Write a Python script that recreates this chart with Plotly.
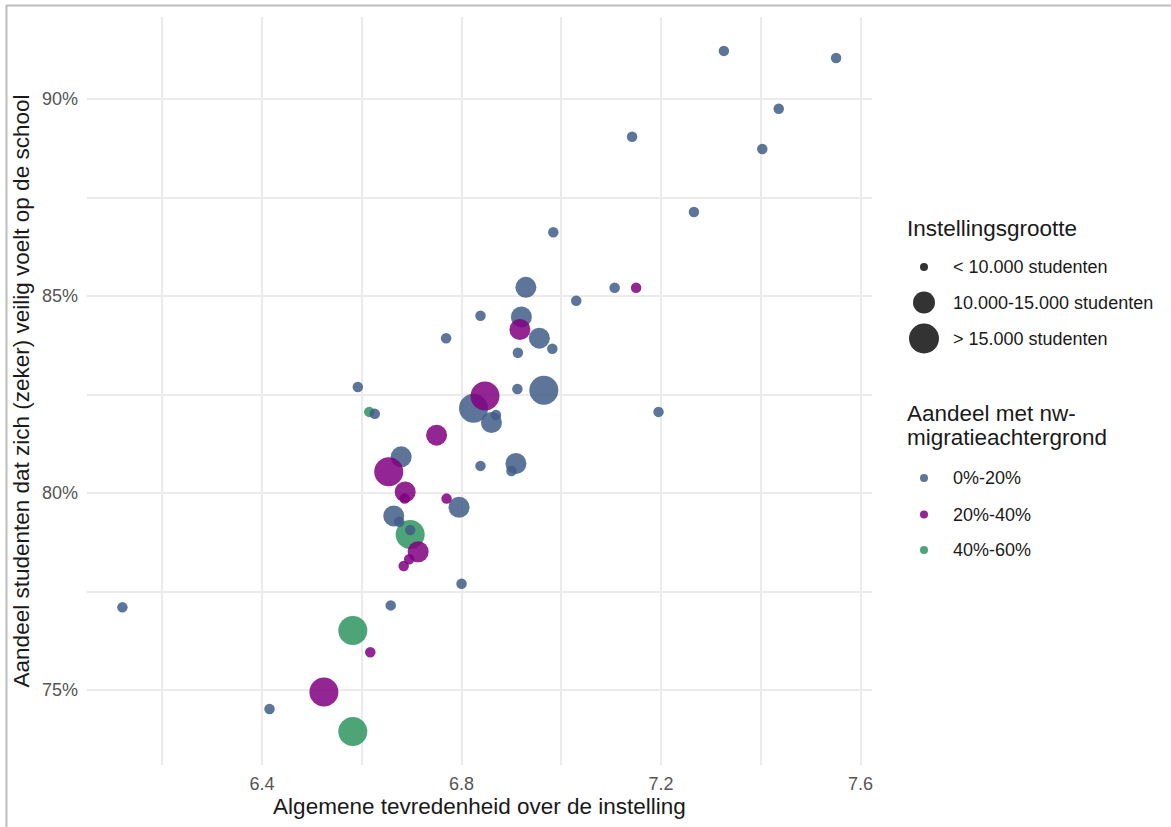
import plotly.graph_objects as go

# ---------------- data ----------------
tevredenheid = [
    # 40%-60%
    6.615, 6.697, 6.582, 6.582,
    # 0%-20%
    6.120, 6.415, 7.326, 7.551, 7.436, 7.142, 7.403, 7.266, 6.984, 6.929,
    7.107, 7.030, 6.838, 6.920, 6.956, 6.769, 6.982, 6.913, 6.592, 6.912,
    6.965, 6.824, 6.869, 6.860, 6.626, 7.195, 6.679, 6.838, 6.909, 6.900,
    6.795, 6.664, 6.675, 6.697, 6.800, 6.658,
    # 20%-40%
    7.150, 6.917, 6.847, 6.750, 6.654, 6.687, 6.686, 6.770, 6.713, 6.695,
    6.684, 6.617, 6.524,
]
veiligheid = [
    82.06, 78.95, 76.51, 73.95,
    77.10, 74.52, 91.22, 91.04, 89.75, 89.04, 88.73, 87.13, 86.62, 85.22,
    85.21, 84.88, 84.50, 84.47, 83.93, 83.93, 83.66, 83.56, 82.69, 82.64,
    82.61, 82.15, 81.98, 81.79, 82.01, 82.06, 80.92, 80.69, 80.75, 80.56,
    79.64, 79.42, 79.27, 79.06, 77.70, 77.15,
    85.21, 84.15, 82.46, 81.47, 80.54, 80.03, 79.86, 79.86, 78.51, 78.32,
    78.15, 75.96, 74.95,
]
grootte = [
    "S", "L", "L", "L",
    "S", "S", "S", "S", "S", "S", "S", "S", "S", "M",
    "S", "S", "S", "M", "M", "S", "S", "S", "S", "S",
    "L", "L", "S", "M", "S", "S", "M", "S", "M", "S",
    "M", "M", "S", "S", "S", "S",
    "S", "M", "L", "M", "L", "M", "S", "S", "M", "S",
    "S", "S", "L",
]
migratie = ["40%-60%"] * 4 + ["0%-20%"] * 36 + ["20%-40%"] * 13

grootte_cats = ["S", "M", "L"]
grootte_labels = ["< 10.000 studenten", "10.000-15.000 studenten", "> 15.000 studenten"]
migratie_cats = ["0%-20%", "20%-40%", "40%-60%"]

x_ticks = [6.4, 6.8, 7.2, 7.6]
x_minor = [6.2, 6.6, 7.0, 7.4]
y_ticks = [75, 80, 85, 90]
y_minor = [77.5, 82.5, 87.5]

# ---------------- styles ----------------
size_px = {"S": 10.5, "M": 21, "L": 29}
legend_size_px = {"S": 8, "M": 22, "L": 30}
colors = {"0%-20%": "#415d87", "20%-40%": "#800080", "40%-60%": "#2e945f"}
OPA = 0.85

W, H = 1171, 827
L_, R_, T_, B_ = 87, 872, 17, 765


def px_x(p):
    return (p - L_) / (R_ - L_)


def px_y(p):
    return (B_ - p) / (B_ - T_)


fig = go.Figure()
for cat in ["40%-60%", "0%-20%", "20%-40%"]:
    idx = [i for i, m in enumerate(migratie) if m == cat]
    fig.add_trace(go.Scatter(
        x=[tevredenheid[i] for i in idx],
        y=[veiligheid[i] for i in idx],
        mode="markers",
        marker=dict(size=[size_px[grootte[i]] for i in idx],
                    color=colors[cat], opacity=OPA, line=dict(width=0)),
        showlegend=False,
        name=cat,
    ))

shapes = []
annotations = []
FONT = "Arial"
TXT = "#1a1a1a"

# frame lines of the image
shapes.append(dict(type="line", xref="paper", yref="paper",
                   x0=px_x(6), x1=px_x(1171), y0=px_y(5.5), y1=px_y(5.5),
                   line=dict(color="#bdbdbd", width=2)))
shapes.append(dict(type="line", xref="paper", yref="paper",
                   x0=px_x(6.5), x1=px_x(6.5), y0=px_y(5), y1=px_y(827),
                   line=dict(color="#bdbdbd", width=2)))

# custom legend: size
annotations.append(dict(text="Instellingsgrootte", xref="paper", yref="paper",
                        x=px_x(905), y=px_y(228), xanchor="left", yanchor="middle",
                        showarrow=False, font=dict(family=FONT, size=22.5, color=TXT)))
for k, (cat, lab) in enumerate(zip(grootte_cats, grootte_labels)):
    cy = [267, 302.5, 338.5][k]
    r = legend_size_px[cat] / 2
    shapes.append(dict(type="circle", xref="paper", yref="paper",
                       xsizemode="pixel", ysizemode="pixel",
                       xanchor=px_x(924), yanchor=px_y(cy),
                       x0=-r, x1=r, y0=-r, y1=r,
                       fillcolor="#333333", line=dict(width=0)))
    annotations.append(dict(text=lab, xref="paper", yref="paper",
                            x=px_x(951), y=px_y(cy), xanchor="left", yanchor="middle",
                            showarrow=False, font=dict(family=FONT, size=18, color=TXT)))

# custom legend: colour
annotations.append(dict(text="Aandeel met nw-", xref="paper", yref="paper",
                        x=px_x(905), y=px_y(413), xanchor="left", yanchor="middle", align="left",
                        showarrow=False, font=dict(family=FONT, size=22.5, color=TXT)))
annotations.append(dict(text="migratieachtergrond", xref="paper", yref="paper",
                        x=px_x(905), y=px_y(437.5), xanchor="left", yanchor="middle", align="left",
                        showarrow=False, font=dict(family=FONT, size=22.5, color=TXT)))
for k, cat in enumerate(migratie_cats):
    cy = [478, 514.5, 550][k]
    r = 4
    shapes.append(dict(type="circle", xref="paper", yref="paper",
                       xsizemode="pixel", ysizemode="pixel",
                       xanchor=px_x(924), yanchor=px_y(cy),
                       x0=-r, x1=r, y0=-r, y1=r,
                       fillcolor=colors[cat], opacity=OPA, line=dict(width=0)))
    annotations.append(dict(text=cat, xref="paper", yref="paper",
                            x=px_x(951), y=px_y(cy), xanchor="left", yanchor="middle",
                            showarrow=False, font=dict(family=FONT, size=18, color=TXT)))

GRID = "#ebebeb"
fig.update_layout(
    width=W, height=H,
    margin=dict(l=L_, r=W - R_, t=T_, b=H - B_, autoexpand=False),
    paper_bgcolor="white", plot_bgcolor="white",
    font=dict(family=FONT),
    showlegend=False,
    shapes=shapes,
    annotations=annotations,
    xaxis=dict(
        range=[6.049, 7.623], tickvals=x_ticks, ticktext=[str(v) for v in x_ticks],
        showgrid=True, gridcolor=GRID, gridwidth=1.6, zeroline=False, showline=False,
        ticks="", ticklabelstandoff=6,
        tickfont=dict(family=FONT, size=18, color="#555555"),
        minor=dict(tickvals=x_minor, showgrid=True, gridcolor=GRID, gridwidth=1.6),
        title=dict(text="Algemene tevredenheid over de instelling", standoff=4,
                   font=dict(family=FONT, size=22.5, color=TXT)),
        automargin=False,
    ),
    yaxis=dict(
        range=[73.10, 92.08], tickvals=y_ticks, ticktext=[f"{v}%" for v in y_ticks],
        showgrid=True, gridcolor=GRID, gridwidth=1.6, zeroline=False, showline=False,
        ticks="", ticklabelstandoff=8,
        tickfont=dict(family=FONT, size=18, color="#555555"),
        minor=dict(tickvals=y_minor, showgrid=True, gridcolor=GRID, gridwidth=1.6),
        title=dict(text="Aandeel studenten dat zich (zeker) veilig voelt op de school", standoff=6,
                   font=dict(family=FONT, size=22.5, color=TXT)),
        automargin=False,
    ),
)

fig.write_html(
    "out.html",
    config={"displayModeBar": False},
    post_script="document.body.style.margin='0';document.body.style.overflow='hidden';",
)
